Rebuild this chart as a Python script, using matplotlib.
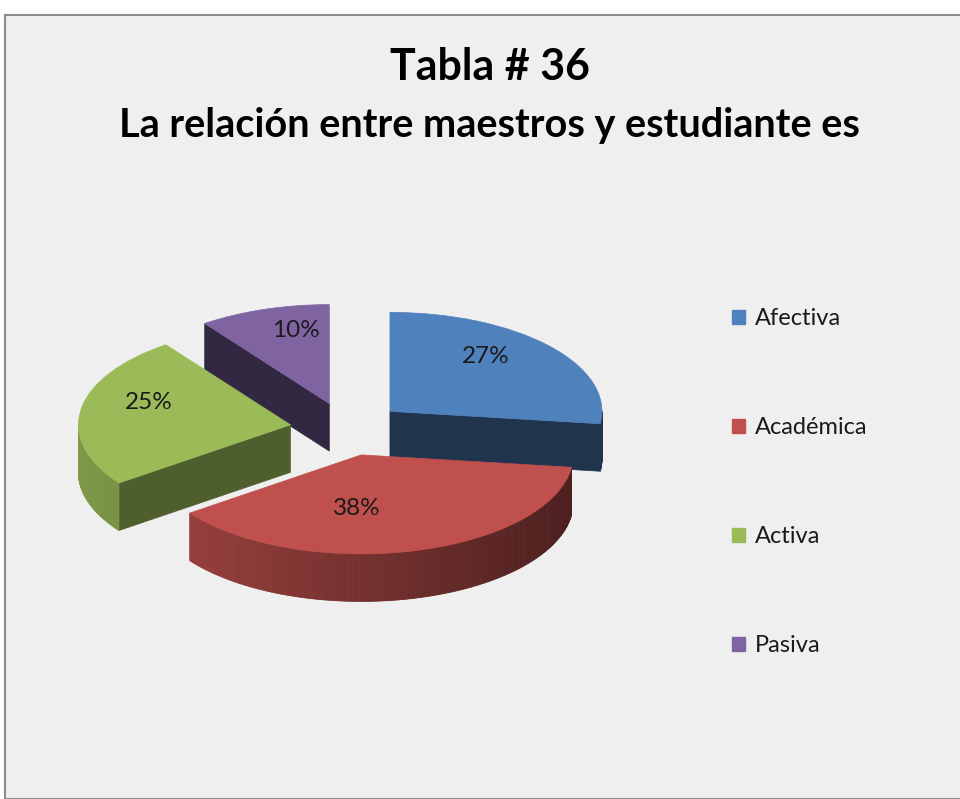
import numpy as np
import matplotlib
matplotlib.use('Agg')
import matplotlib.pyplot as plt
from matplotlib.patches import Wedge, Polygon, Patch, Rectangle

# datos de la tabla 36
categorias = ['Afectiva', 'Académica', 'Activa', 'Pasiva']
porcentajes = [27, 38, 25, 10]
etiquetas = ['27%', '38%', '25%', '10%']
colores = ['#4F81BD', '#C0504D', '#9BBB59', '#8064A2']

# estilo: oscurecido de las caras radiales y posicion de etiquetas (unidades del pastel)
oscuro_radial = [0.41, 0.42, 0.5, 0.4]
pos_etiquetas = [(0.653, 0.737), (0.047, -0.80), (-0.934, 0.263), (-0.239, 0.99)]

plt.rcParams['font.family'] = ['Lato', 'DejaVu Sans']

W, H = 960, 799
fig = plt.figure(figsize=(W / 100, H / 100), dpi=100)
fig.patch.set_facecolor('white')
# fondo gris con borde arriba e izquierda
fondo = Rectangle((5 / W, 0), 1, 1 - 15 / H, transform=fig.transFigure,
                  facecolor='#EFEFEF', edgecolor='#8C8C8C', lw=1.5, zorder=-5)
fig.patches.append(fondo)

# geometria de la proyeccion (pixeles)
cx, cy, Rx, Ry = 347, 429, 212, 99
grosor = 0.48
explode = 0.27

ax = fig.add_axes([0, 0, 1, 1], zorder=2)
ax.patch.set_visible(False)
ax.set_xlim(-cx / Rx, (W - cx) / Rx)
ax.set_ylim(-(H - cy) / Ry, cy / Ry)
ax.set_aspect('auto')
ax.axis('off')


def shade(color, f):
    r, g, b = matplotlib.colors.to_rgb(color)
    return (r * f, g * f, b * f)


total = sum(porcentajes)
fracs = [p / total for p in porcentajes]
angulos = []
acum = 0
for fr in fracs:
    a2 = 90 - 360 * acum
    a1 = a2 - 360 * fr
    angulos.append((a1, a2))
    acum += fr

# orden de dibujo: de atras hacia adelante
orden = [3, 0, 2, 1]
for i in orden:
    a1, a2 = angulos[i]
    m = np.radians((a1 + a2) / 2)
    ox, oy = explode * np.cos(m), explode * np.sin(m)
    col = colores[i]

    # caras radiales visibles
    for ang, normal in [(a1, a1 - 90), (a2, a2 + 90)]:
        if np.sin(np.radians(normal)) < -0.01:
            ex, ey = ox + np.cos(np.radians(ang)), oy + np.sin(np.radians(ang))
            pts = [(ox, oy), (ex, ey), (ex, ey - grosor), (ox, oy - grosor)]
            c = shade(col, oscuro_radial[i])
            ax.add_patch(Polygon(pts, closed=True, facecolor=c, edgecolor=c, lw=0.5))

    # lado curvo visible (degradado)
    th = np.linspace(a1, a2, 200)
    for t0, t1 in zip(th[:-1], th[1:]):
        tm = np.radians((t0 + t1) / 2)
        if np.sin(tm) >= 0:
            continue
        f = 0.61 - 0.21 * np.cos(tm)
        p0 = (ox + np.cos(np.radians(t0)), oy + np.sin(np.radians(t0)))
        p1 = (ox + np.cos(np.radians(t1)), oy + np.sin(np.radians(t1)))
        pts = [p0, p1, (p1[0], p1[1] - grosor), (p0[0], p0[1] - grosor)]
        ax.add_patch(Polygon(pts, closed=True, facecolor=shade(col, f),
                             edgecolor=shade(col, f), lw=0.6))

    # cara superior
    ax.add_patch(Wedge((ox, oy), 1, a1, a2, facecolor=col, edgecolor=col, lw=0.5))

for i, txt in enumerate(etiquetas):
    lx, ly = pos_etiquetas[i]
    ax.text(lx, ly, txt, ha='center', va='center', fontsize=17.5, color='#1A1A1A', zorder=5)

fig.text(0.51, 1 - 67 / H, 'Tabla # 36', ha='center', va='center', fontsize=31,
         fontweight='bold', color='black')
fig.text(0.51, 1 - 125 / H, 'La relación entre maestros y estudiante es',
         ha='center', va='center', fontsize=28.5, fontweight='bold', color='black')

handles = [Patch(facecolor=c, edgecolor=c) for c in colores]
fig.legend(handles, categorias, loc='upper left', bbox_to_anchor=(711 / W, 1 - 287 / H),
           frameon=False, fontsize=17, handlelength=0.55, handleheight=0.55,
           handletextpad=0.4, labelspacing=3.73, labelcolor='#1A1A1A')

fig.savefig('out.png', dpi=100, facecolor=fig.get_facecolor())
